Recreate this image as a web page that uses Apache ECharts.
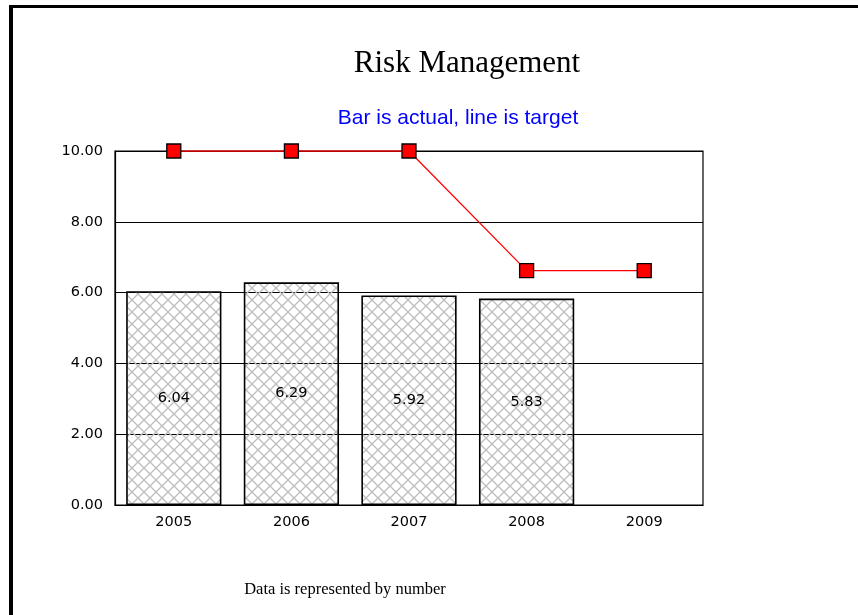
<!DOCTYPE html>
<html>
<head>
<meta charset="utf-8">
<script src="https://cdn.jsdelivr.net/npm/echarts@6/dist/echarts.min.js"></script>
<style>
html,body{margin:0;padding:0;background:#fff;}
#chart{width:858px;height:615px;}
</style>
</head>
<body>
<div id="chart"></div>
<script>
const categories = ['2005', '2006', '2007', '2008', '2009'];
const actualValues = [6.04, 6.29, 5.92, 5.83, null];
const targetValues = [10, 10, 10, 6.62, 6.62];
const yMin = 0, yMax = 10, yInterval = 2;

function makeHatch() {
  const c = document.createElement('canvas');
  c.width = 12; c.height = 12;
  const g = c.getContext('2d');
  g.strokeStyle = '#bdbdbd';
  g.lineWidth = 1.3;
  g.beginPath();
  g.moveTo(0, 0); g.lineTo(12, 12);
  g.moveTo(12, 0); g.lineTo(0, 12);
  g.stroke();
  return c;
}

const chart = echarts.init(document.getElementById('chart'), null, {renderer: 'canvas'});
const axisFont = {fontFamily: 'DejaVu Sans', fontSize: 14.5, color: '#000'};

chart.setOption({
  backgroundColor: '#fff',
  animation: false,
  title: [
    {text: 'Risk Management', left: 462, top: 43, textAlign: 'center',
     textStyle: {fontFamily: 'Liberation Serif', fontSize: 31, fontWeight: 'normal', color: '#000'}},
    {text: 'Bar is actual, line is target', left: 453, top: 103, textAlign: 'center',
     textStyle: {fontFamily: 'Liberation Sans', fontSize: 21, fontWeight: 'normal', color: '#0000ff'}},
    {text: 'Data is represented by number', left: 340, top: 576, textAlign: 'center',
     textStyle: {fontFamily: 'Liberation Serif', fontSize: 16.5, fontWeight: 'normal', color: '#000'}}
  ],
  graphic: [
    {type: 'rect', shape: {x: 9, y: 5, width: 4, height: 610}, style: {fill: '#000'}},
    {type: 'rect', shape: {x: 9, y: 5, width: 849, height: 3}, style: {fill: '#000'}}
  ],
  grid: {left: 115, right: 155, top: 151, bottom: 110, show: true, borderColor: '#000', borderWidth: 1.2},
  xAxis: {
    type: 'category',
    data: categories,
    boundaryGap: true,
    axisLine: {lineStyle: {color: '#000', width: 1.2}},
    axisTick: {show: false},
    axisLabel: Object.assign({margin: 10}, axisFont)
  },
  yAxis: {
    type: 'value',
    min: yMin, max: yMax, interval: yInterval,
    axisLine: {show: true, lineStyle: {color: '#000', width: 1.2}},
    axisTick: {show: false},
    splitLine: {lineStyle: {color: '#000', width: 1.2}},
    axisLabel: Object.assign({margin: 12, formatter: v => v.toFixed(2)}, axisFont)
  },
  series: [
    {
      type: 'bar',
      data: actualValues,
      barCategoryGap: '19%',
      itemStyle: {color: {image: makeHatch(), repeat: 'repeat'}, borderColor: '#000', borderWidth: 1.6},
      label: {show: true, position: 'inside', formatter: p => p.value.toFixed(2),
        fontFamily: 'DejaVu Sans', fontSize: 14.5, color: '#000'},
      z: 2
    },
    {
      type: 'line',
      data: targetValues,
      symbol: 'rect',
      symbolSize: 14,
      lineStyle: {color: '#ff0000', width: 1.3},
      itemStyle: {color: '#ff0000', borderColor: '#000', borderWidth: 1.3},
      z: 3
    }
  ]
});
</script>
</body>
</html>
